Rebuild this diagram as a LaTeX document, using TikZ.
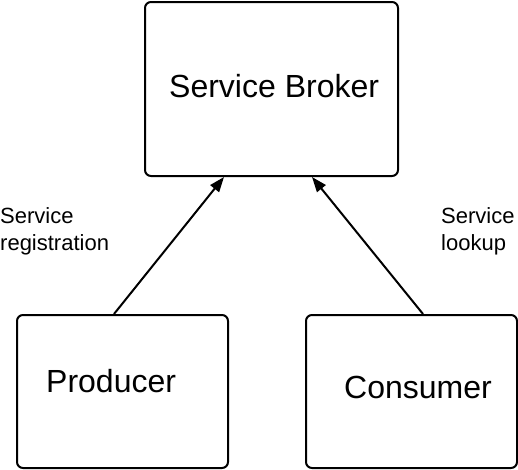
\documentclass[tikz,border=0pt]{standalone}
\usepackage{fontspec}
\setmainfont{Liberation Sans}
\usetikzlibrary{arrows.meta}
\tikzset{
	box/.style={draw=black,line width=2pt,rounded corners=6pt,inner sep=0pt},
	boxtext/.style={anchor=base west,inner sep=0pt,font=\fontsize{32}{38}\selectfont},
	edgetext/.style={anchor=base west,inner sep=0pt,align=left,font=\fontsize{22}{27}\selectfont},
	link/.style={line width=2pt,-{Triangle[length=15pt,width=11pt]}}
}
\begin{document}
\begin{tikzpicture}[x=1pt,y=-1pt]
			\useasboundingbox (0,0) rectangle (518,469);
			% boxes
			\node[box,minimum width=253pt,minimum height=174pt] (broker) at (271.5,89) {};
			\node[box,minimum width=211pt,minimum height=153pt] (producer) at (122.5,391.5) {};
			\node[box,minimum width=211pt,minimum height=153pt] (consumer) at (411.5,391.5) {};
			\node[boxtext] (brokertext) at (169,97) {Service Broker};
			\node[boxtext] (producertext) at (46,392) {Producer};
			\node[boxtext] (consumertext) at (344,398) {Consumer};
			% links
			\draw[link] ([xshift=98pt]producer.north west) -- ([xshift=80pt]broker.south west);
			\draw[link] ([xshift=118pt]consumer.north west) -- ([xshift=168pt]broker.south west);
			\node[edgetext] (registration) at (0,250) {Service\\registration};
			\node[edgetext] (lookup) at (441,250) {Service\\lookup};
		\end{tikzpicture}
\end{document}
